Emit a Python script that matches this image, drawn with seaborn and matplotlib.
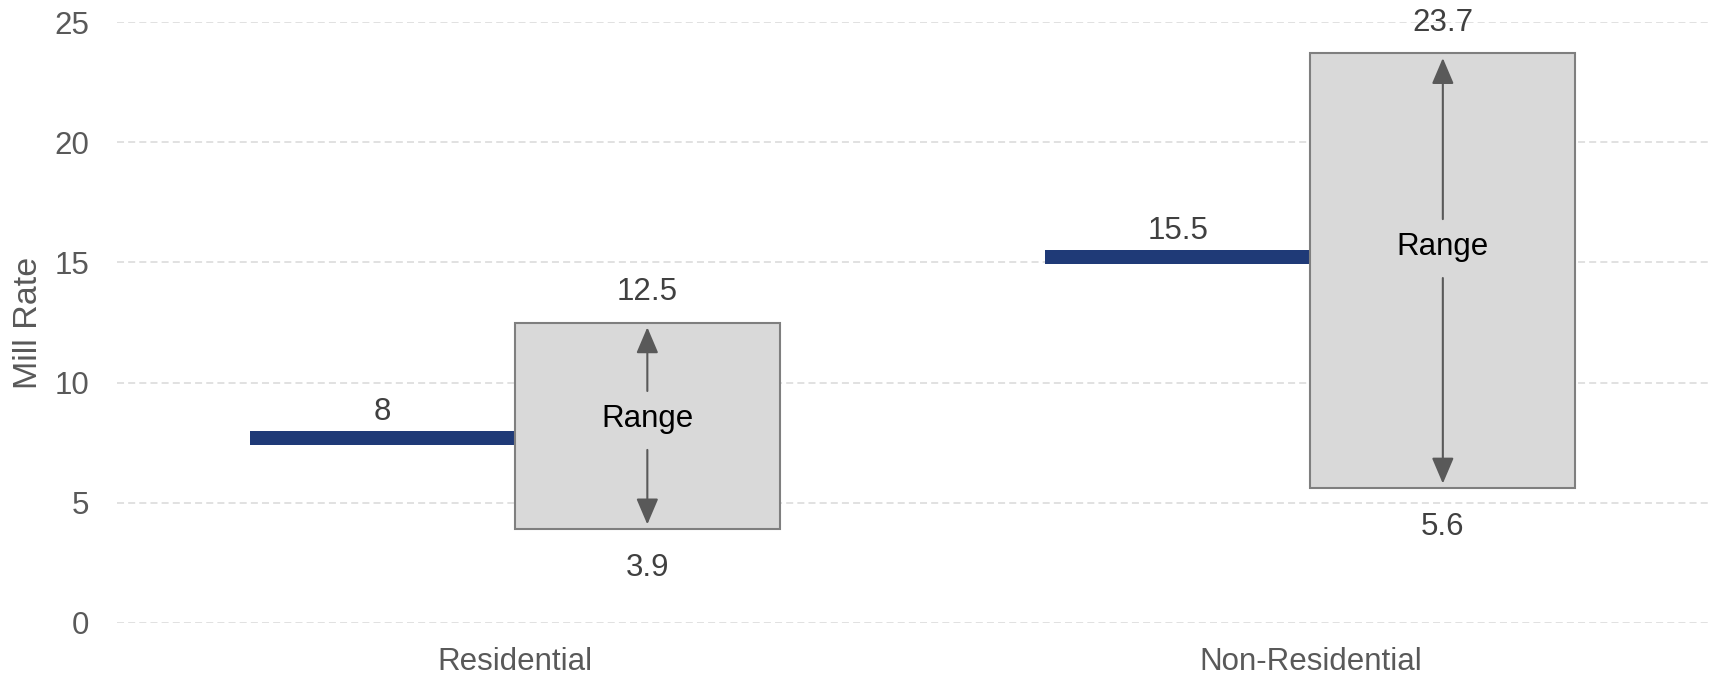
import matplotlib
matplotlib.use("Agg")
import matplotlib.pyplot as plt
import seaborn as sns
import numpy as np

# Mill rates by property class
categories = ["Residential", "Non-Residential"]
average_rate = [8, 15.5]
range_low = [3.9, 5.6]
range_high = [12.5, 23.7]
y_ticks = [0, 5, 10, 15, 20, 25]

# Layout of the "Range" callouts inside each box
range_label_y = [8.5, 15.65]

sns.set_theme(style="whitegrid", rc={
    "grid.color": "#D9D9D9",
    "grid.linestyle": (0, (4.6, 2.7)),
    "grid.linewidth": 1.1,
    "axes.edgecolor": "white",
})
plt.rcParams["font.family"] = ["Liberation Sans", "DejaVu Sans"]

BLUE = "#1F3A77"
BOX_FILL = "#D9D9D9"
BOX_EDGE = "#7F7F7F"
ARROW = "#595959"
TICK = "#595959"
VALUE = "#404040"
FS = 22.5

fig = plt.figure(figsize=(17.11, 6.75), dpi=100)
ax = fig.add_axes([117 / 1711, 52 / 675, 1591 / 1711, 601 / 675])

x = np.arange(len(categories))
seg = 1 / 3
line_thick = 0.58

# Average rate: a thick bar segment to the left of each category centre
ax.bar(x - seg / 2, [line_thick] * len(x), width=seg,
       bottom=np.array(average_rate) - line_thick,
       color=BLUE, edgecolor="none", zorder=3)

# Range box to the right of each category centre
ax.bar(x + seg / 2, np.array(range_high) - np.array(range_low), width=seg,
       bottom=range_low, color=BOX_FILL, edgecolor=BOX_EDGE,
       linewidth=1.5, zorder=3)

for i, xi in enumerate(x):
    # value over the average segment
    ax.annotate(f"{average_rate[i]:g}", (xi - seg / 2, average_rate[i]),
                xytext=(0, 8), textcoords="offset points",
                ha="center", va="baseline", fontsize=FS, color=VALUE, zorder=5)
    cx = xi + seg / 2
    # high / low labels
    ax.annotate(f"{range_high[i]:g}", (cx, range_high[i]),
                xytext=(0, 16), textcoords="offset points",
                ha="center", va="baseline", fontsize=FS, color=VALUE, zorder=5)
    ax.annotate(f"{range_low[i]:g}", (cx, range_low[i]),
                xytext=(0, -33.5), textcoords="offset points",
                ha="center", va="baseline", fontsize=FS, color=VALUE, zorder=5)
    # "Range" text with arrows to the box edges
    ly = range_label_y[i]
    ax.text(cx, ly, "Range", ha="center", va="center", fontsize=FS,
            color="black", zorder=5)
    aprops = dict(arrowstyle="-|>,head_length=0.4,head_width=0.17",
                  mutation_scale=40, lw=1.5, color=ARROW,
                  shrinkA=0, shrinkB=0)
    ax.annotate("", xy=(cx, range_high[i] - 0.2), xytext=(cx, ly + 1.15),
                arrowprops=aprops, zorder=4)
    ax.annotate("", xy=(cx, range_low[i] + 0.2), xytext=(cx, ly - 1.3),
                arrowprops=aprops, zorder=4)

ax.set_xlim(-0.5, 1.5)
ax.set_ylim(0, 25)
ax.set_yticks(y_ticks)
ax.set_xticks(x)
ax.set_xticklabels(categories)
ax.grid(axis="x", visible=False)
ax.grid(axis="y", visible=True)
ax.set_axisbelow(True)
for s in ax.spines.values():
    s.set_visible(False)

ax.tick_params(axis="y", length=0, pad=20, labelsize=FS, labelcolor=TICK)
ax.tick_params(axis="x", length=0, pad=17, labelsize=FS, labelcolor=TICK)
ax.set_ylabel("Mill Rate", fontsize=24.5, color=TICK)
ax.yaxis.set_label_coords(-0.0459, 0.5)

fig.savefig("out.png", dpi=100, facecolor="white")
